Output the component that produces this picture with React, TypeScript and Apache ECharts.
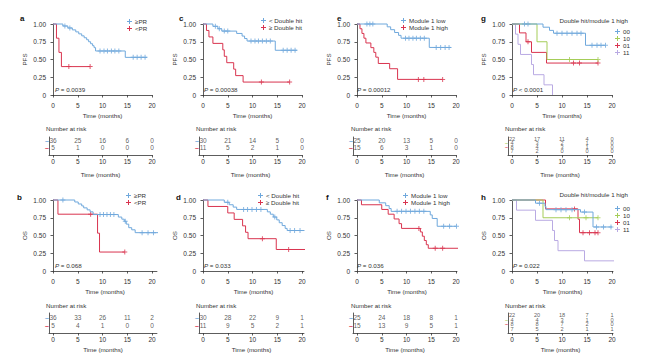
import React, { useEffect, useRef } from 'react';
import * as echarts from 'echarts';

const BLUE = '#6fa8dc';
const RED = '#d9344f';
const GREEN = '#a5cd58';
const PURPLE = '#b9aae3';
const INK = '#333333';
const FONT = '"Liberation Sans", Arial, sans-serif';
const PLUS = 'path://M2,0H3V2H5V3H3V5H2V3H0V2H2Z';

const TIME_TICKS = [0, 5, 10, 15, 20];

// ---- a: PFS by response ----
const aPR = [[0, 1], [2.0, 0.972], [3.0, 0.944], [3.9, 0.917], [4.6, 0.889], [5.2, 0.861], [5.8, 0.833], [6.3, 0.806], [6.8, 0.778], [7.2, 0.75], [7.6, 0.722], [8.0, 0.694], [8.3, 0.667], [8.6, 0.62], [14.6, 0.53], [19.0, 0.53]];
const aPRCens = [2.4, 3.4, 9.5, 10.3, 11.0, 11.8, 12.5, 13.3, 16.2, 17.0, 17.8, 18.6];
const aNoPR = [[0, 1], [0.7, 0.8], [1.2, 0.6], [1.7, 0.4], [7.5, 0.4]];
const aNoPRCens = [3.2, 7.5];
const aRisk = [[36, 25, 16, 6, 0], [5, 1, 0, 0, 0]];

// ---- b: OS by response ----
const bPR = [[0, 1], [4.4, 0.972], [5.1, 0.944], [5.8, 0.917], [6.2, 0.889], [6.9, 0.861], [7.5, 0.833], [8.1, 0.795], [13.2, 0.76], [13.9, 0.73], [14.4, 0.70], [14.8, 0.66], [15.3, 0.61], [15.9, 0.58], [16.6, 0.54], [21.4, 0.54]];
const bPRCens = [2.0, 9.5, 10.2, 10.9, 11.6, 12.3, 14.6, 18.0, 19.2, 20.3];
const bNoPR = [[0, 1], [1.0, 0.8], [9.0, 0.533], [9.4, 0.267], [14.5, 0.267]];
const bNoPRCens = [7.6, 14.5];
const bRisk = [[36, 33, 26, 11, 2], [5, 4, 1, 0, 0]];

// ---- c: PFS by double hit ----
const cLow = [[0, 1], [2.0, 0.967], [3.0, 0.933], [3.8, 0.90], [6.8, 0.867], [7.9, 0.83], [8.4, 0.795], [8.9, 0.76], [14.6, 0.63], [19.0, 0.63]];
const cLowCens = [2.5, 3.3, 4.3, 5.0, 9.7, 10.5, 11.2, 12.0, 12.8, 13.6, 16.2, 17.0, 17.8, 18.6];
const cHigh = [[0, 1], [0.7, 0.909], [1.2, 0.818], [2.0, 0.727], [4.0, 0.636], [4.3, 0.545], [4.8, 0.455], [6.2, 0.364], [6.6, 0.273], [8.1, 0.182], [17.5, 0.182]];
const cHighCens = [11.8, 17.5];
const cRisk = [[30, 21, 14, 5, 0], [11, 5, 2, 1, 0]];

// ---- d: OS by double hit ----
const dLow = [[0, 1], [4.3, 0.967], [5.3, 0.933], [6.1, 0.90], [6.8, 0.867], [13.0, 0.833], [13.6, 0.80], [14.2, 0.76], [14.9, 0.72], [15.4, 0.68], [16.0, 0.64], [16.6, 0.60], [17.0, 0.57], [20.5, 0.57]];
const dLowCens = [5.0, 8.2, 9.0, 9.9, 10.8, 11.7, 14.5, 17.6, 18.5, 19.6];
const dHigh = [[0, 1], [1.0, 0.909], [5.0, 0.818], [6.3, 0.727], [8.0, 0.636], [8.6, 0.545], [9.1, 0.455], [14.8, 0.303], [21.2, 0.303]];
const dHighCens = [12.0, 17.3];
const dRisk = [[30, 28, 22, 9, 1], [11, 9, 5, 2, 1]];

// ---- e: PFS by module 1 ----
const eLow = [[0, 1], [6.1, 0.96], [6.8, 0.92], [7.6, 0.88], [8.4, 0.84], [8.9, 0.80], [14.6, 0.67], [19.0, 0.67]];
const eLowCens = [2.0, 2.6, 3.2, 9.8, 10.5, 11.3, 12.0, 12.8, 13.6, 16.0, 16.9, 17.8, 18.6];
const eHigh = [[0, 1], [0.6, 0.933], [1.0, 0.867], [1.4, 0.80], [1.8, 0.733], [2.8, 0.667], [3.4, 0.60], [3.8, 0.533], [4.3, 0.444], [6.6, 0.37], [8.2, 0.22], [17.3, 0.22]];
const eHighCens = [12.4, 13.5, 17.3];
const eRisk = [[25, 20, 13, 5, 0], [15, 6, 3, 1, 0]];

// ---- f: OS by module 1 ----
const fLow = [[0, 1], [4.5, 0.96], [5.8, 0.92], [6.5, 0.88], [6.9, 0.84], [14.8, 0.79], [15.2, 0.74], [16.2, 0.63], [20.1, 0.63]];
const fLowCens = [8.1, 9.0, 9.9, 10.8, 11.7, 12.6, 13.5, 17.5, 18.7, 20.1];
const fHigh = [[0, 1], [0.9, 0.933], [5.0, 0.867], [6.3, 0.80], [7.5, 0.733], [8.5, 0.667], [9.0, 0.60], [12.8, 0.55], [13.2, 0.49], [13.6, 0.43], [14.0, 0.37], [14.4, 0.32], [22.1, 0.32]];
const fHighCens = [12.5, 15.8, 17.3];
const fRisk = [[25, 24, 18, 8, 1], [15, 13, 9, 5, 1]];

// ---- g: PFS by double hit / module 1 high ----
const g00 = [[0, 1], [6.2, 0.955], [7.5, 0.91], [8.3, 0.87], [14.7, 0.70], [18.7, 0.70]];
const g00Cens = [2.5, 3.2, 9.0, 10.0, 11.0, 12.0, 13.0, 13.8, 16.0, 17.0, 17.8, 18.7];
const g10 = [[0, 1], [5.0, 0.75], [7.0, 0.5], [17.2, 0.5]];
const g10Cens = [11.5, 17.2];
const g01 = [[0, 1], [1.5, 0.875], [2.8, 0.75], [3.9, 0.60], [6.9, 0.45], [17.2, 0.45]];
const g01Cens = [3.2, 12.3, 13.5, 17.2];
const g11 = [[0, 1], [0.7, 0.857], [1.2, 0.714], [1.7, 0.571], [3.9, 0.429], [4.3, 0.286], [6.4, 0.143], [8.1, 0]];
const g11Cens: number[] = [];
const gRisk = [[22, 17, 11, 4, 0], [4, 3, 2, 1, 0], [8, 4, 3, 1, 0], [7, 2, 0, 0, 0]];

// ---- h: OS by double hit / module 1 high ----
const h00 = [[0, 1], [4.7, 0.955], [6.6, 0.909], [6.8, 0.864], [13.7, 0.83], [16.2, 0.62], [20.0, 0.62]];
const h00Cens = [5.5, 8.8, 9.8, 10.8, 12.0, 14.5, 16.9, 18.3, 19.8];
const h10 = [[0, 1], [6.2, 0.75], [17.2, 0.75]];
const h10Cens = [11.5, 14.8, 17.2];
const h01 = [[0, 1], [6.7, 0.875], [13.2, 0.73], [13.5, 0.54], [17.2, 0.54]];
const h01Cens = [12.5, 14.2, 15.5, 16.6, 17.2];
const h11 = [[0, 1], [0.9, 0.857], [4.7, 0.714], [8.1, 0.571], [8.5, 0.429], [9.2, 0.286], [14.5, 0.143], [24.9, 0.143]];
const h11Cens: number[] = [];
const hRisk = [[22, 20, 18, 7, 1], [4, 4, 3, 1, 0], [8, 8, 7, 2, 0], [7, 5, 2, 1, 1]];

const PR_NAMES = ['≥PR', '<PR'];
const DH_NAMES = ['< Double hit', '≥ Double hit'];
const MOD_NAMES = ['Module 1 low', 'Module 1 high'];
const COMBO_NAMES = ['00', '10', '01', '11'];

type Panel = {
  id: string; col: number; row: number; yName: string; p: string; xmax: number;
  names: string[]; colors: string[]; steps: number[][][]; cens: number[][]; risk: number[][];
  legendTitle?: string;
};

const panels: Panel[] = [
  { id: 'a', col: 0, row: 0, yName: 'PFS', p: '= 0.0039', xmax: 20, names: PR_NAMES, colors: [BLUE, RED], steps: [aPR, aNoPR], cens: [aPRCens, aNoPRCens], risk: aRisk },
  { id: 'c', col: 1, row: 0, yName: 'PFS', p: '= 0.00038', xmax: 20, names: DH_NAMES, colors: [BLUE, RED], steps: [cLow, cHigh], cens: [cLowCens, cHighCens], risk: cRisk },
  { id: 'e', col: 2, row: 0, yName: 'PFS', p: '= 0.00012', xmax: 20, names: MOD_NAMES, colors: [BLUE, RED], steps: [eLow, eHigh], cens: [eLowCens, eHighCens], risk: eRisk },
  { id: 'g', col: 3, row: 0, yName: 'PFS', p: '< 0.0001', xmax: 20, names: COMBO_NAMES, colors: [BLUE, GREEN, RED, PURPLE], steps: [g00, g10, g01, g11], cens: [g00Cens, g10Cens, g01Cens, g11Cens], risk: gRisk, legendTitle: 'Double hit/module 1 high' },
  { id: 'b', col: 0, row: 1, yName: 'OS', p: '= 0.068', xmax: 21, names: PR_NAMES, colors: [BLUE, RED], steps: [bPR, bNoPR], cens: [bPRCens, bNoPRCens], risk: bRisk },
  { id: 'd', col: 1, row: 1, yName: 'OS', p: '= 0.033', xmax: 20.4, names: DH_NAMES, colors: [BLUE, RED], steps: [dLow, dHigh], cens: [dLowCens, dHighCens], risk: dRisk },
  { id: 'f', col: 2, row: 1, yName: 'OS', p: '= 0.036', xmax: 20.2, names: MOD_NAMES, colors: [BLUE, RED], steps: [fLow, fHigh], cens: [fLowCens, fHighCens], risk: fRisk },
  { id: 'h', col: 3, row: 1, yName: 'OS', p: '= 0.022', xmax: 20.2, names: COMBO_NAMES, colors: [BLUE, GREEN, RED, PURPLE], steps: [h00, h10, h01, h11], cens: [h00Cens, h10Cens, h01Cens, h11Cens], risk: hRisk, legendTitle: 'Double hit/module 1 high' },
];

// layout
const COL_X0 = [53, 203, 357, 512];
const PX_PER_MONTH = [4.95, 4.95, 4.95, 5.0];
const PLOT_TOP = [24, 200];
const PLOT_H = 71;
const TABLE_TOP = [137, 313];
const TABLE_H = [18, 20];
const LEGEND_POS = [[127, 18], [261, 17], [401, 17], [615, 28], [126, 192], [258, 192], [403, 192], [615, 205]];
const LETTER_POS = [[20, 19], [179, 19], [337, 19], [481, 19], [17, 198], [176, 198], [326, 198], [481, 198]];
const RISK_TITLE_X = [46, 196, 351, 505];
const RISK_TITLE_Y = [129, 306];
const PVAL_X = [55, 204, 357, 513];
const PVAL_Y = [90, 266];
const X_NAME_GAP = [13, 13];
const T_NAME_GAP = [16, 13];

function survAt(steps: number[][], t: number) {
  let s = steps[0][1];
  for (const [x, y] of steps) {
    if (x <= t) s = y;
  }
  return s;
}

const txt = { fontSize: 6.2, color: INK, fontFamily: FONT };

function buildOption() {
  const grid: any[] = [];
  const xAxis: any[] = [];
  const yAxis: any[] = [];
  const series: any[] = [];
  const legend: any[] = [];
  const graphic: any[] = [];
  const line = { show: true, lineStyle: { color: INK, width: 0.8 } };
  const tick = { show: true, length: 2.5, lineStyle: { color: INK, width: 0.8 } };
  const lab = { fontSize: 6.5, color: INK, fontFamily: FONT, margin: 3 };

  panels.forEach((p, i) => {
    const x0 = COL_X0[p.col];
    const pm = PX_PER_MONTH[p.col];
    const w = pm * p.xmax;
    const gPlot = i * 2;
    const gTab = i * 2 + 1;
    const ticks = TIME_TICKS.filter((t) => t <= p.xmax);
    const n = p.names.length;
    const riskFont = n > 2 ? 5.6 : 6.5;

    // plot grid
    grid.push({ left: x0, top: PLOT_TOP[p.row], width: w, height: PLOT_H });
    xAxis.push({
      type: 'value', gridIndex: gPlot, min: 0, max: p.xmax, offset: 4,
      axisLine: line, axisTick: { ...tick, customValues: ticks }, axisLabel: { ...lab, customValues: ticks },
      splitLine: { show: false },
      name: 'Time (months)', nameLocation: 'middle', nameGap: X_NAME_GAP[p.row], nameTextStyle: txt,
    });
    yAxis.push({
      type: 'value', gridIndex: gPlot, min: 0, max: 1, interval: 0.25, offset: 4,
      axisLine: line, axisTick: tick,
      axisLabel: { ...lab, formatter: (v: number) => (v === 0 ? '0' : v.toFixed(2)) },
      splitLine: { show: false },
      name: p.yName, nameLocation: 'middle', nameGap: 22, nameRotate: 90, nameTextStyle: txt,
    });

    // table grid
    grid.push({ left: x0 - 4, top: TABLE_TOP[p.row], width: w + 4, height: TABLE_H[p.row] });
    xAxis.push({
      type: 'value', gridIndex: gTab, min: -4 / pm, max: p.xmax,
      axisLine: { ...line, onZero: false }, axisTick: { ...tick, customValues: ticks }, axisLabel: { ...lab, customValues: ticks },
      splitLine: { show: false },
      name: 'Time (months)', nameLocation: 'middle', nameGap: T_NAME_GAP[p.row], nameTextStyle: txt,
    });
    const rich: any = {};
    p.colors.forEach((c, j) => { rich['r' + j] = { color: c, fontSize: n > 2 ? 5.5 : 7, fontWeight: 'bold', fontFamily: FONT }; });
    yAxis.push({
      type: 'value', gridIndex: gTab, min: 0, max: n + 0.5,
      axisLine: { ...line, onZero: false }, axisTick: { show: false },
      axisLabel: {
        margin: 0, customValues: p.names.map((_, j) => n - j),
        formatter: (v: number) => `{r${n - v}|–}`, rich,
      },
      splitLine: { show: false },
    });

    p.names.forEach((name, j) => {
      const color = p.colors[j];
      series.push({
        type: 'line', name, xAxisIndex: gPlot, yAxisIndex: gPlot, data: p.steps[j], step: 'end',
        symbol: 'none', clip: false, lineStyle: { color, width: 1 }, itemStyle: { color }, z: 3 + (n - j),
      });
      if (p.cens[j].length) {
        series.push({
          type: 'scatter', name: name + ' censored', xAxisIndex: gPlot, yAxisIndex: gPlot, clip: false,
          data: p.cens[j].map((t) => [t, survAt(p.steps[j], t)]),
          symbol: PLUS, symbolSize: 5, itemStyle: { color }, z: 3 + (n - j),
        });
      }
      series.push({
        type: 'scatter', name: name + ' at risk', xAxisIndex: gTab, yAxisIndex: gTab, symbolSize: 1,
        itemStyle: { color: 'rgba(0,0,0,0)' },
        data: ticks.map((t, k) => [t, n - j, p.risk[j][k]]),
        label: { show: true, position: 'inside', formatter: (q: any) => String(q.value[2]), ...txt, fontSize: riskFont },
      });
    });

    const [lx, ly] = LEGEND_POS[i];
    legend.push({
      left: lx, top: ly, orient: 'vertical', data: p.names, icon: PLUS, itemWidth: 5, itemHeight: 5,
      itemGap: 0, padding: 0, selectedMode: false, textStyle: { ...txt, lineHeight: 7, padding: [0, 0, 0, -2] },
    });

    const [ltx, lty] = LETTER_POS[i];
    graphic.push({ type: 'text', left: ltx, top: lty - 5, style: { text: p.id, font: `bold 8px ${FONT}`, fill: '#111' } });
    graphic.push({ type: 'text', left: RISK_TITLE_X[p.col], top: RISK_TITLE_Y[p.row] - 4, style: { text: 'Number at risk', font: `6.2px ${FONT}`, fill: INK } });
    graphic.push({
      type: 'text', left: PVAL_X[p.col], top: PVAL_Y[p.row] - 4,
      style: {
        text: `{i|P} ${p.p}`, fill: INK, font: `6.2px ${FONT}`,
        rich: { i: { fontStyle: 'italic', fontSize: 6.2, fontFamily: FONT, fill: INK } },
      },
    });
    if (p.legendTitle) {
      graphic.push({ type: 'text', right: 650 - 628, top: (p.row === 0 ? 21 : 195) - 4, style: { text: p.legendTitle, font: `6.2px ${FONT}`, fill: INK } });
    }
  });

  return {
    animation: false,
    backgroundColor: '#ffffff',
    textStyle: { fontFamily: FONT },
    grid, xAxis, yAxis, series, legend, graphic,
  };
}

export default function App() {
  const ref = useRef<HTMLDivElement>(null);
  useEffect(() => {
    document.body.style.margin = '0';
    const chart = echarts.init(ref.current as HTMLDivElement, undefined, { renderer: 'svg' });
    chart.setOption(buildOption());
    return () => chart.dispose();
  }, []);
  return <div ref={ref} style={{ width: 650, height: 362, background: '#fff' }} />;
}
